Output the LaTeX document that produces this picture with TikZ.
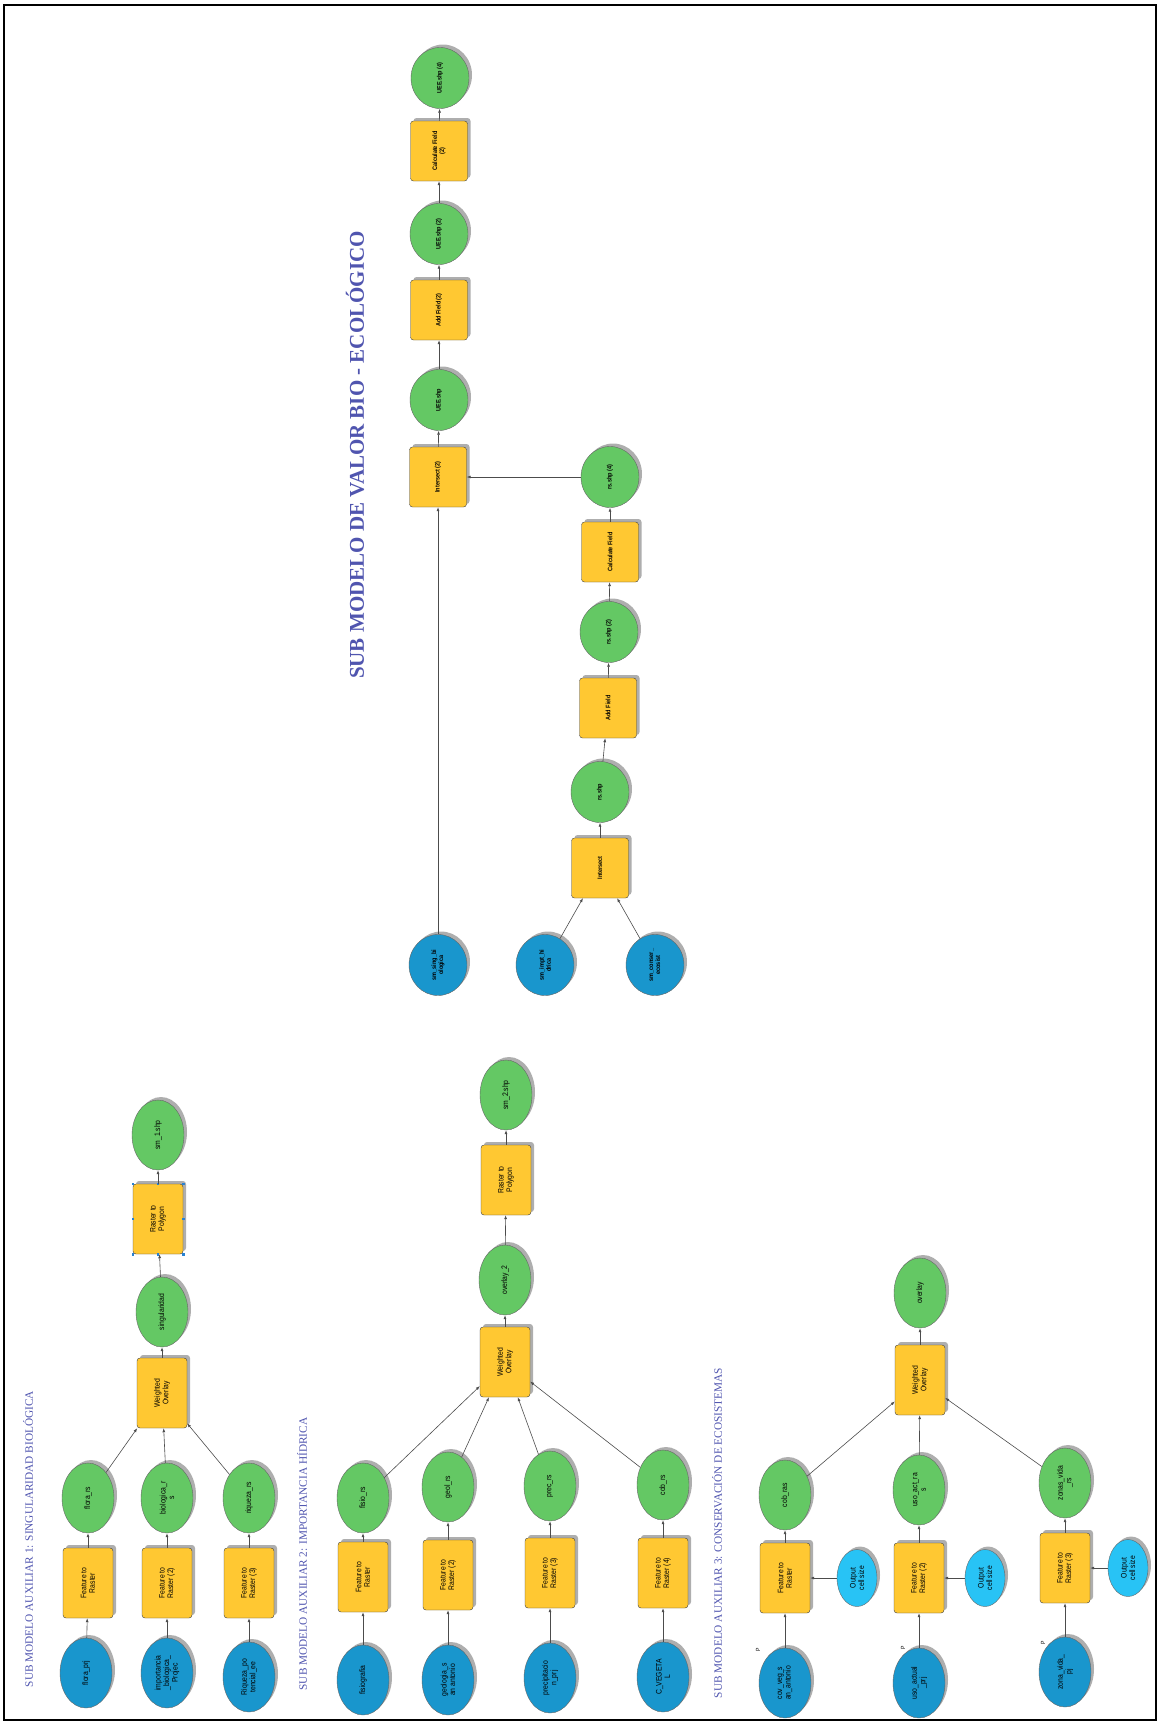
\documentclass[tikz,border=0pt]{standalone}
\usepackage{fontspec}
\setmainfont{Liberation Serif}
\newfontfamily\mbfont[FakeStretch=0.85]{Liberation Sans}
\usetikzlibrary{shapes.geometric,shadows,arrows.meta}
\definecolor{mbTool}{RGB}{255,200,50}
\definecolor{mbOut}{RGB}{100,200,100}
\definecolor{mbIn}{RGB}{25,150,205}
\definecolor{mbParam}{RGB}{40,195,245}
\definecolor{mbTitle}{RGB}{80,85,175}
\definecolor{mbHandle}{RGB}{40,130,210}
\tikzset{
  mbshadow/.style={drop shadow={shadow xshift=3pt, shadow yshift=3pt, fill=black!45, opacity=0.7}},
  mbtool/.style={draw=black!75, fill=mbTool, rounded corners=3pt, rotate=90, minimum width=70pt, minimum height=50pt, inner sep=1pt, align=center, font=\mbfont\fontsize{8}{8.5}\selectfont, mbshadow},
  mbout/.style={ellipse, draw=black!60, fill=mbOut, rotate=90, minimum width=70pt, minimum height=52pt, inner sep=0pt, align=center, font=\mbfont\fontsize{8}{8.5}\selectfont, mbshadow},
  mbin/.style={mbout, fill=mbIn},
  mbparam/.style={mbout, fill=mbParam, minimum width=57pt, minimum height=40pt},
  bigtool/.style={mbtool, minimum width=60pt, minimum height=57pt, font=\mbfont\fontsize{6.5}{7}\selectfont\bfseries},
  bigout/.style={mbout, minimum width=61pt, minimum height=58pt, font=\mbfont\fontsize{6.5}{7}\selectfont\bfseries},
  bigin/.style={bigout, fill=mbIn},
  flow/.style={-{Latex[length=4pt,width=3pt]}, draw=black!70, line width=0.6pt},
  subtitle/.style={rotate=90, text=mbTitle, inner sep=0pt, font=\fontsize{11.3}{13}\selectfont},
  ptag/.style={rotate=90, inner sep=0pt, font=\mbfont\fontsize{6}{6}\selectfont},
}

\begin{document}
\begin{tikzpicture}[x=1pt,y=-1pt]
\useasboundingbox (0,0) rectangle (1160,1724);
\draw[line width=2.5pt] (4,5) rectangle (1156,1720);

% sub modelo de valor bio - ecologico
\node[subtitle, font=\fontsize{21}{23}\selectfont\bfseries] (title0) at (355,455) {SUB MODELO DE VALOR BIO - ECOLÓGICO};
\node[bigin] (singbi) at (438,965) {sm\_sing\_bi\\ologica};
\node[bigin] (impthi) at (545,965) {sm\_impt\_hi\\drica};
\node[bigin] (conser) at (655,965) {sm\_conser\_\\ecosist};
\node[bigtool] (inter1) at (600,868) {Intersect};
\node[bigout] (rs1) at (600,792) {rs.shp};
\node[bigtool] (addf1) at (608,708) {Add Field};
\node[bigout] (rs2) at (609,632) {rs.shp (2)};
\node[bigtool] (calc1) at (610,552) {Calculate Field};
\node[bigout] (rs4) at (610,477) {rs.shp (4)};
\node[bigtool] (inter2) at (438,477) {Intersect (2)};
\node[bigout] (uee1) at (439,400) {UEE.shp};
\node[bigtool] (addf2) at (439,310) {Add Field (2)};
\node[bigout] (uee2) at (439,234) {UEE.shp (2)};
\node[bigtool] (calc2) at (439,151) {Calculate Field\\(2)};
\node[bigout] (uee4) at (440,78) {UEE.shp (4)};
\draw[flow] (impthi) -- (inter1);
\draw[flow] (conser) -- (inter1);
\draw[flow] (inter1) -- (rs1);
\draw[flow] (rs1) -- (addf1);
\draw[flow] (addf1) -- (rs2);
\draw[flow] (rs2) -- (calc1);
\draw[flow] (calc1) -- (rs4);
\draw[flow] (rs4) -- (inter2);
\draw[flow] (singbi) -- (inter2);
\draw[flow] (inter2) -- (uee1);
\draw[flow] (uee1) -- (addf2);
\draw[flow] (addf2) -- (uee2);
\draw[flow] (uee2) -- (calc2);
\draw[flow] (calc2) -- (uee4);

% sub modelo auxiliar 1
\node[subtitle] (title1) at (28,1539) {SUB MODELO AUXILIAR 1: SINGULARIDAD BIOLÓGICA};
\node[mbin] (florprj) at (86,1673) {flora\_prj};
\node[mbtool] (ftr1a) at (88,1583) {Feature to\\Raster};
\node[mbout] (florrs) at (88,1498) {flora\_rs};
\node[mbin] (impbio) at (167,1673) {importancia\\\_biologica\_\\Projec};
\node[mbtool] (ftr1b) at (167,1583) {Feature to\\Raster (2)};
\node[mbout] (biors) at (167,1498) {biologica\_r\\s};
\node[mbin] (riqpot) at (249,1677) {Riqueza\_po\\tencial\_ee};
\node[mbtool] (ftr1c) at (249,1583) {Feature to\\Raster (3)};
\node[mbout] (riqrs) at (249,1498) {riqueza\_rs};
\node[mbtool] (wo1) at (162,1393) {Weighted\\Overlay};
\node[mbout] (singul) at (162,1312) {singularidad};
\node[mbtool] (r2p1) at (158,1219) {Raster to\\Polygon};
\node[mbout] (sm1) at (158,1135) {sm\_1.shp};
\foreach \a in {north,south,east,west,north east,north west,south east,south west}
  \fill[mbHandle] (r2p1.\a) ++(-1.3,-1.3) rectangle ++(2.6,2.6);
\draw[flow] (florprj) -- (ftr1a);
\draw[flow] (ftr1a) -- (florrs);
\draw[flow] (florrs) -- (wo1);
\draw[flow] (impbio) -- (ftr1b);
\draw[flow] (ftr1b) -- (biors);
\draw[flow] (biors) -- (wo1);
\draw[flow] (riqpot) -- (ftr1c);
\draw[flow] (ftr1c) -- (riqrs);
\draw[flow] (riqrs) -- (wo1);
\draw[flow] (wo1) -- (singul);
\draw[flow] (singul) -- (r2p1);
\draw[flow] (r2p1) -- (sm1);

% sub modelo auxiliar 2
\node[subtitle] (title2) at (302,1554) {SUB MODELO AUXILIAR 2: IMPORTANCIA HÍDRICA};
\node[mbin] (fisiog) at (363,1680) {fisiografia};
\node[mbtool] (ftr2a) at (363,1577) {Feature to\\Raster};
\node[mbout] (fisiors) at (363,1498) {fisio\_rs};
\node[mbin] (geolsa) at (448,1680) {geologia\_s\\an antonio};
\node[mbtool] (ftr2b) at (448,1575) {Feature to\\Raster (2)};
\node[mbout] (geolrs) at (448,1487) {geol\_rs};
\node[mbin] (precprj) at (550,1678) {precipitacio\\n\_prj};
\node[mbtool] (ftr2c) at (550,1573) {Feature to\\Raster (3)};
\node[mbout] (precrs) at (550,1486) {prec\_rs};
\node[mbin] (cveget) at (663,1677) {C\_VEGETA\\L};
\node[mbtool] (ftr2d) at (663,1573) {Feature to\\Raster (4)};
\node[mbout] (cobrs) at (663,1485) {cob\_rs};
\node[mbtool] (wo2) at (505,1362) {Weighted\\Overlay};
\node[mbout] (ovl2) at (505,1280) {overlay\_2};
\node[mbtool] (r2p2) at (506,1180) {Raster to\\Polygon};
\node[mbout] (sm2) at (506,1095) {sm\_2.shp};
\draw[flow] (fisiog) -- (ftr2a);
\draw[flow] (ftr2a) -- (fisiors);
\draw[flow] (fisiors) -- (wo2);
\draw[flow] (geolsa) -- (ftr2b);
\draw[flow] (ftr2b) -- (geolrs);
\draw[flow] (geolrs) -- (wo2);
\draw[flow] (precprj) -- (ftr2c);
\draw[flow] (ftr2c) -- (precrs);
\draw[flow] (precrs) -- (wo2);
\draw[flow] (cveget) -- (ftr2d);
\draw[flow] (ftr2d) -- (cobrs);
\draw[flow] (cobrs) -- (wo2);
\draw[flow] (wo2) -- (ovl2);
\draw[flow] (ovl2) -- (r2p2);
\draw[flow] (r2p2) -- (sm2);

% sub modelo auxiliar 3
\node[subtitle] (title3) at (717,1533) {SUB MODELO AUXILIAR 3: CONSERVACIÓN DE ECOSISTEMAS};
\node[mbin] (covveg) at (785,1683) {cov\_veg\_s\\an\_antonio};
\node[ptag] (pcov) at (758,1650) {P};
\node[mbtool] (ftr3a) at (785,1578) {Feature to\\Raster};
\node[mbparam] (ocs3a) at (857,1578) {Output\\cell size};
\node[mbout] (cobras) at (785,1495) {cob\_ras};
\node[mbin] (usoprj) at (919,1683) {uso\_actual\\\_prj};
\node[ptag] (puso) at (903,1648) {P};
\node[mbtool] (ftr3b) at (919,1578) {Feature to\\Raster (2)};
\node[mbparam] (ocs3b) at (985,1578) {Output\\cell size};
\node[mbout] (usors) at (919,1490) {uso\_act\_ra\\s};
\node[mbin] (zvpj) at (1065,1672) {zona\_vida\_\\pj};
\node[ptag] (pzv) at (1043,1643) {P};
\node[mbtool] (ftr3c) at (1065,1568) {Feature to\\Raster (3)};
\node[mbparam] (ocs3c) at (1128,1568) {Output\\cell size};
\node[mbout] (zvrs) at (1065,1483) {zonas\_vida\\\_rs};
\node[mbtool] (wo3) at (920,1380) {Weighted\\Overlay};
\node[mbout] (ovl) at (920,1293) {overlay};
\draw[flow] (covveg) -- (ftr3a);
\draw[flow] (ocs3a) -- (ftr3a);
\draw[flow] (ftr3a) -- (cobras);
\draw[flow] (cobras) -- (wo3);
\draw[flow] (usoprj) -- (ftr3b);
\draw[flow] (ocs3b) -- (ftr3b);
\draw[flow] (ftr3b) -- (usors);
\draw[flow] (usors) -- (wo3);
\draw[flow] (zvpj) -- (ftr3c);
\draw[flow] (ocs3c) -- (ftr3c);
\draw[flow] (ftr3c) -- (zvrs);
\draw[flow] (zvrs) -- (wo3);
\draw[flow] (wo3) -- (ovl);
\end{tikzpicture}
\end{document}
